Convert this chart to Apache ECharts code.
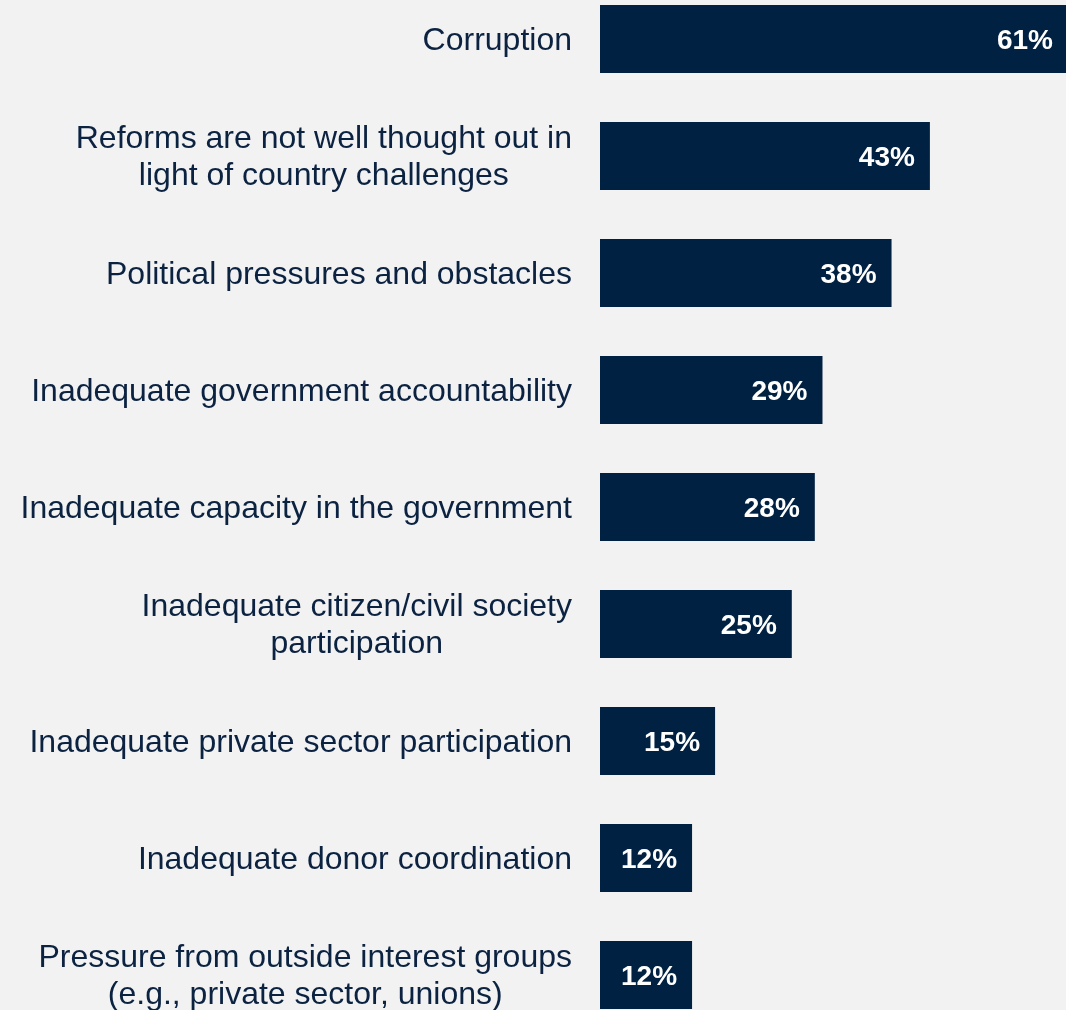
<!DOCTYPE html>
<html><head><meta charset="utf-8">
<script src="https://cdn.jsdelivr.net/npm/echarts@6/dist/echarts.min.js"></script>
<style>html,body{margin:0;padding:0;background:#f2f2f2;}#c{width:1066px;height:1010px;}</style>
</head><body><div id="c"></div>
<script>
const categories = [
  "Corruption",
  "Reforms are not well thought out in\nlight of country challenges",
  "Political pressures and obstacles",
  "Inadequate government accountability",
  "Inadequate capacity in the government",
  "Inadequate citizen/civil society\nparticipation",
  "Inadequate private sector participation",
  "Inadequate donor coordination",
  "Pressure from outside interest groups\n(e.g., private sector, unions)"
];
const values = [61, 43, 38, 29, 28, 25, 15, 12, 12];

const chart = echarts.init(document.getElementById('c'));
chart.setOption({
  backgroundColor: '#f2f2f2',
  animation: false,
  grid: { left: 600, right: -2, top: -19.5, height: 1053, containLabel: false, outerBoundsMode: 'none' },
  xAxis: { type: 'value', min: 0, max: 61, show: false },
  yAxis: {
    type: 'category', inverse: true, data: categories,
    axisLine: { show: false }, axisTick: { show: false },
    axisLabel: {
      margin: 28,
      padding: [4, 0, 0, 0],
      formatter: function (v) { return v.split('\n').map(s => '{c|' + s + '}').join('\n'); },
      rich: { c: { align: 'center', fontFamily: 'Liberation Sans, Arial, sans-serif', fontSize: 32, color: '#0b2241', lineHeight: 37 } }
    }
  },
  series: [{
    type: 'bar', data: values, barWidth: 68,
    itemStyle: { color: '#002142' },
    label: {
      show: true, position: 'insideRight', distance: 15,
      offset: [0, 2],
      formatter: '{c}%', color: '#ffffff', fontWeight: 'bold',
      fontFamily: 'Liberation Sans, Arial, sans-serif', fontSize: 28
    }
  }]
});
</script></body></html>
